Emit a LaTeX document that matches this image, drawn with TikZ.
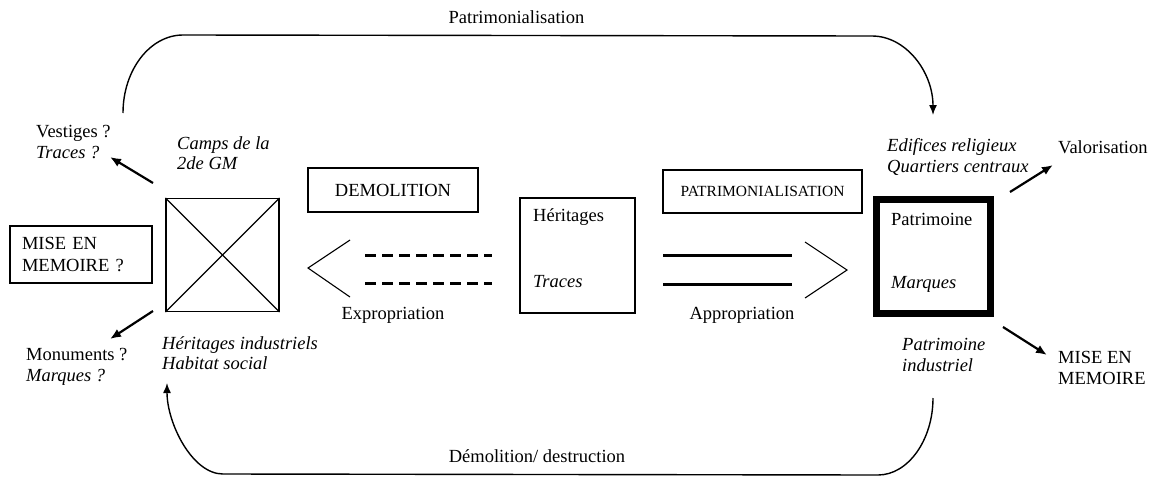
\documentclass[tikz,border=0pt]{standalone}
\usepackage{fontspec}
\setmainfont{Liberation Serif}
\usetikzlibrary{arrows.meta}
\begin{document}
\begin{tikzpicture}[x=1pt,y=-1pt,
  txt/.style={inner sep=0pt, anchor=west, align=left, font=\fontsize{18.5}{20.5}\selectfont},
  ctxt/.style={inner sep=0pt, anchor=center, font=\fontsize{18.5}{20.5}\selectfont},
  boxed/.style={draw, line width=1.1pt, inner sep=0pt},
  flow/.style={line width=1.4pt, -{Latex[length=10pt,width=8pt]}},
  side/.style={line width=2.2pt, -{Latex[length=11pt,width=9pt]}},
  thickline/.style={line width=3pt},
  thickdash/.style={line width=3pt, dash pattern=on 11pt off 6pt},
  chev/.style={line width=1.1pt}]
\useasboundingbox (0,0) rectangle (1157,477);

% top label and curve
\node[ctxt] (toplab) at (516.5,17) {Patrimonialisation};
\coordinate (tstart) at (123,113);
\coordinate (tend) at (933,115);
\draw[flow] (tstart) .. controls (123,70) and (150,35) .. (183,35) -- (872,36)
  .. controls (906,36) and (933,72) .. (tend);

% bottom label and curve
\node[ctxt] (botlab) at (537,456) {Démolition/ destruction};
\coordinate (bstart) at (933,398);
\coordinate (bend) at (167,383);
\draw[flow] (bstart) .. controls (933,440) and (908,475) .. (878,475) -- (223,474)
  .. controls (192,474) and (167,423) .. (bend);

% left side
\node[txt] (vest) at (36,142) {Vestiges ?\\\textit{Traces ?}};
\node[txt] (camps) at (177,153) {\textit{Camps de la}\\\textit{2de GM}};
\node[boxed, txt, anchor=center, minimum width=142pt, minimum height=57pt, text width=118pt, inner xsep=12pt, font=\fontsize{18.5}{22}\selectfont] (misel) at (81,254.5) {MISE EN\\MEMOIRE ?};
\node[txt] (monu) at (26,367) {Monuments ?\\\textit{Marques ?}};
\node[txt] (herind) at (162,353) {\textit{Héritages industriels}\\\textit{Habitat social}};
\node[boxed, minimum size=113pt] (sq) at (222.5,255) {};
\draw[line width=1.1pt] (sq.north west) -- (sq.south east);
\draw[line width=1.1pt] (sq.north east) -- (sq.south west);

\coordinate (a1s) at (153,183); \coordinate (a1e) at (110,157);
\coordinate (a2s) at (153,311); \coordinate (a2e) at (110,339);
\draw[side] (a1s) -- (a1e);
\draw[side] (a2s) -- (a2e);

% demolition
\node[boxed, ctxt, minimum width=170pt, minimum height=44pt] (demo) at (393,190) {DEMOLITION};
\draw[chev] (350,240) -- (308,268) -- (350,297);
\draw[thickdash] (365,255) -- (492,255);
\draw[thickdash] (365,283) -- (492,283);
\node[ctxt] (expro) at (393,315) {Expropriation};

% centre
\node[boxed, minimum size=115pt] (her) at (577.5,255.5) {};
\node[txt] (hert) at (533,217) {Héritages};
\node[txt] (trac) at (533,282) {\textit{Traces}};

% patrimonialisation
\node[boxed, ctxt, minimum width=199pt, minimum height=43pt, font=\fontsize{15.5}{17}\selectfont] (patr) at (762.5,191.5) {PATRIMONIALISATION};
\draw[thickline] (663,255) -- (792,255);
\draw[thickline] (663,284) -- (792,284);
\draw[chev] (805,242) -- (847,270) -- (805,298);
\node[ctxt] (appro) at (742,315) {Appropriation};

% right side
\node[draw, line width=7pt, minimum size=114pt, inner sep=0pt] (pat) at (933.5,256.5) {};
\node[txt] (patt) at (891,219) {Patrimoine};
\node[txt] (marq) at (891,284) {\textit{Marques}};
\node[txt] (edif) at (887,157) {\textit{Edifices religieux}\\\textit{Quartiers centraux}};
\node[txt] (valo) at (1058,147) {Valorisation};
\node[txt] (miser) at (1058,368) {MISE EN\\MEMOIRE};
\node[txt] (patind) at (902,355) {\textit{Patrimoine}\\\textit{industriel}};
\coordinate (a3s) at (1010,192); \coordinate (a3e) at (1053,165);
\coordinate (a4s) at (1003,327); \coordinate (a4e) at (1047,355);
\draw[side] (a3s) -- (a3e);
\draw[side] (a4s) -- (a4e);
\end{tikzpicture}
\end{document}
